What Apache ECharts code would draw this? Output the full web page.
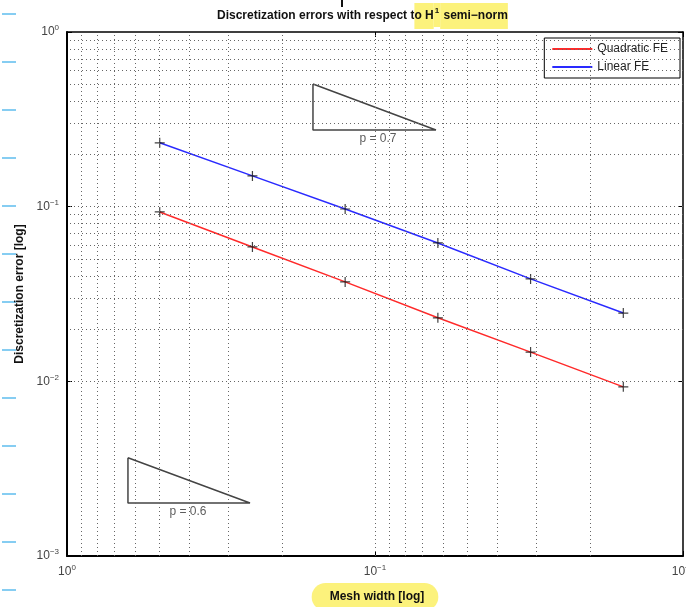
<!DOCTYPE html>
<html>
<head>
<meta charset="utf-8">
<script src="https://cdn.jsdelivr.net/npm/echarts@6/dist/echarts.min.js"></script>
<style>
  html, body { margin: 0; padding: 0; background: #fff; }
  #chart { width: 686px; height: 607px; }
</style>
</head>
<body>
<div id="chart"></div>
<script>
// data
var meshWidth = [0.5, 0.25, 0.125, 0.0625, 0.03125, 0.015625];
var linearErr = [0.232, 0.150, 0.097, 0.062, 0.0386, 0.0246];
var quadErr = [0.0933, 0.0588, 0.0371, 0.0231, 0.0147, 0.0093];

// slope triangles (x, y corners) and their labels
var triUpperX = [0.159, 0.159, 0.0634, 0.159];
var triUpperY = [0.504, 0.275, 0.275, 0.504];
var triLowerX = [0.634, 0.634, 0.2546, 0.634];
var triLowerY = [0.00365, 0.00201, 0.00201, 0.00365];
var triLabels = ['p = 0.7', 'p = 0.6'];
var triLabelX = [0.0978, 0.405];
var triLabelY = [0.275, 0.00201];

// grid lines (matlab style, every 1..9 per decade)
var gridMult = [1, 2, 3, 4, 5, 6, 7, 8, 9];
var xDecades = [0.01, 0.1];
var yDecades = [0.001, 0.01, 0.1];

var font = 'Liberation Sans, Arial, sans-serif';

function pairs(xs, ys) {
  return xs.map(function (x, i) { return [x, ys[i]]; });
}

function gridValues(decades) {
  var out = [];
  decades.forEach(function (d, k) {
    gridMult.forEach(function (m) {
      if (m == 1 && k == 0) return; // lower border
      out.push(m * d);
    });
  });
  return out;
}

function powLabel(v) {
  var e = Math.round(Math.log(v) / Math.LN10);
  return '{b|10}{s|' + (e < 0 ? '\u2212' + (-e) : e) + '}';
}

var labelRich = {
  b: { fontFamily: font, fontSize: 12, color: '#444' },
  s: { fontFamily: font, fontSize: 8, color: '#444', verticalAlign: 'top', padding: [0, 0, 8, 0] }
};

var gridLines = [];
gridValues(xDecades).forEach(function (v) { gridLines.push({ xAxis: v }); });
gridValues(yDecades).forEach(function (v) { gridLines.push({ yAxis: v }); });

var plus = 'path://M4.4,0h1.2v4.4h4.4v1.2h-4.4v4.4h-1.2v-4.4h-4.4v-1.2h4.4z';

var chart = echarts.init(document.getElementById('chart'));

var sideAxis = {
  type: 'log',
  logBase: 10,
  axisLine: { show: true, lineStyle: { color: '#000', width: 1.5 } },
  axisTick: { show: true, inside: true, length: 5, lineStyle: { color: '#000' } },
  axisLabel: { show: false },
  splitLine: { show: false }
};

var option = {
  animation: false,
  backgroundColor: '#fff',
  title: {
    left: 212,
    top: -2,
    text: 'Discretization errors with respect t{hl|o H}{hs|1}{hl| semi\u2212norm}',
    textStyle: {
      fontFamily: font,
      fontSize: 12,
      fontWeight: 'bold',
      color: '#111',
      rich: {
        hl: { fontFamily: font, fontSize: 12, fontWeight: 'bold', color: '#111', backgroundColor: '#fcf27c', padding: [7, 0, 7, 0] },
        hs: { fontFamily: font, fontSize: 8, fontWeight: 'bold', color: '#111', backgroundColor: '#fcf27c', verticalAlign: 'top', padding: [4, 1, 12, 1] }
      }
    }
  },
  grid: { left: 67, right: 3, top: 32, bottom: 51, outerBoundsMode: 'none', containLabel: false },
  legend: {
    orient: 'vertical',
    right: 6,
    top: 38,
    backgroundColor: '#fff',
    borderColor: '#000',
    borderWidth: 1,
    padding: [5, 12, 5, 8],
    itemGap: 6,
    itemWidth: 40,
    itemHeight: 2,
    icon: 'rect',
    textStyle: { fontFamily: font, fontSize: 12, color: '#222' },
    data: ['Quadratic FE', 'Linear FE']
  },
  xAxis: [
    {
      type: 'log',
      logBase: 10,
      inverse: true,
      min: 0.01,
      max: 1,
      name: '{hl|Mesh width [log]}',
      nameLocation: 'middle',
      nameGap: 17,
      nameTextStyle: {
        rich: {
          hl: { fontFamily: font, fontSize: 12, fontWeight: 'bold', color: '#111', backgroundColor: '#fcf27c', padding: [8, 14, 8, 18], borderRadius: 14 }
        }
      },
      axisLine: { show: true, lineStyle: { color: '#000', width: 2 } },
      axisTick: { show: true, inside: true, length: 5, lineStyle: { color: '#000' } },
      axisLabel: { margin: 8, formatter: powLabel, rich: labelRich },
      splitLine: { show: false }
    },
    echarts.util.merge({ position: 'top', inverse: true, min: 0.01, max: 1 }, sideAxis)
  ],
  yAxis: [
    {
      type: 'log',
      logBase: 10,
      min: 0.001,
      max: 1,
      name: 'Discretization error [log]',
      nameLocation: 'middle',
      nameGap: 37,
      nameTextStyle: { fontFamily: font, fontSize: 12, fontWeight: 'bold', color: '#111' },
      axisLine: { show: true, lineStyle: { color: '#000', width: 2 } },
      axisTick: { show: true, inside: true, length: 5, lineStyle: { color: '#000' } },
      axisLabel: { margin: 8, formatter: powLabel, rich: labelRich },
      splitLine: { show: false }
    },
    echarts.util.merge({ position: 'right', min: 0.001, max: 1 }, sideAxis)
  ],
  series: [
    {
      name: 'grid',
      type: 'scatter',
      data: [],
      silent: true,
      markLine: {
        silent: true,
        symbol: 'none',
        label: { show: false },
        lineStyle: { color: '#666', width: 1, type: [1, 3] },
        data: gridLines
      }
    },
    {
      name: 'Quadratic FE',
      type: 'line',
      data: pairs(meshWidth, quadErr),
      showSymbol: false,
      lineStyle: { color: '#ff2a2a', width: 1.5 },
      itemStyle: { color: '#ff2a2a' },
      z: 3
    },
    {
      name: 'Linear FE',
      type: 'line',
      data: pairs(meshWidth, linearErr),
      showSymbol: false,
      lineStyle: { color: '#2a2aff', width: 1.5 },
      itemStyle: { color: '#2a2aff' },
      z: 3
    },
    {
      name: 'marks',
      type: 'scatter',
      data: pairs(meshWidth, quadErr).concat(pairs(meshWidth, linearErr)),
      symbol: plus,
      symbolSize: 10,
      itemStyle: { color: '#111' },
      z: 4
    },
    {
      name: 'triUpper',
      type: 'line',
      data: pairs(triUpperX, triUpperY),
      showSymbol: false,
      lineStyle: { color: '#444', width: 1.5 },
      z: 2
    },
    {
      name: 'triLower',
      type: 'line',
      data: pairs(triLowerX, triLowerY),
      showSymbol: false,
      lineStyle: { color: '#444', width: 1.5 },
      z: 2
    },
    {
      name: 'triText',
      type: 'scatter',
      symbolSize: 0,
      data: triLabels.map(function (t, i) {
        return { value: [triLabelX[i], triLabelY[i]], name: t };
      }),
      label: {
        show: true,
        position: 'bottom',
        distance: 3,
        formatter: '{b}',
        fontFamily: font,
        fontSize: 12,
        color: '#333'
      },
      z: 2
    }
  ],
  graphic: [
    { type: 'rect', left: 341, top: 0, shape: { width: 2, height: 7 }, style: { fill: '#111' } }
  ]
};

// light blue margin dashes of the scan
for (var k = 0; k < 13; k++) {
  option.graphic.push({
    type: 'line',
    shape: { x1: 2, y1: 14 + 48 * k, x2: 16, y2: 14 + 48 * k },
    style: { stroke: '#86cdf2', lineWidth: 2 }
  });
}

chart.setOption(option);
</script>
</body>
</html>
